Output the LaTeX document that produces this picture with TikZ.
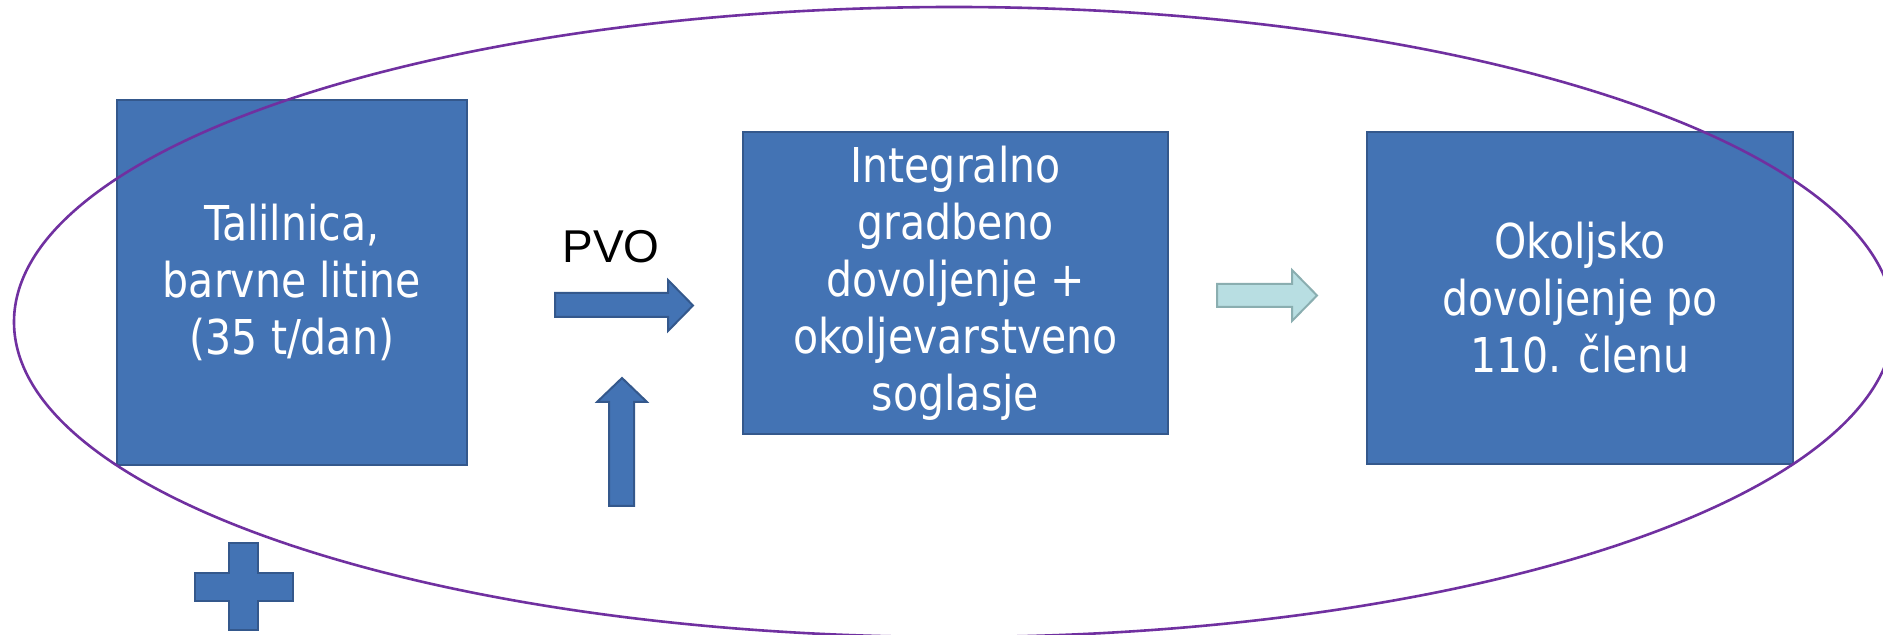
\documentclass[tikz,border=0pt]{standalone}
\usepackage{fontspec}
\newfontfamily\boxfont[FakeStretch=0.95]{DejaVu Sans Condensed}
\newfontfamily\arialfont{Liberation Sans}
\definecolor{boxblue}{RGB}{67,115,180}
\definecolor{boxline}{RGB}{52,88,140}
\definecolor{lighttealfill}{RGB}{184,222,226}
\definecolor{lighttealline}{RGB}{138,174,176}
\definecolor{ovalpurple}{RGB}{112,48,160}
\begin{document}
\begin{tikzpicture}[x=0.5pt,y=-0.5pt,
  bluebox/.style={draw=boxline, line width=1pt, fill=boxblue, text=white,
    inner sep=0pt, align=center, font=\boxfont\fontsize{24}{28.5}\selectfont},
  blockshape/.style={draw=boxline, line width=1pt, fill=boxblue, line join=miter},
  lightshape/.style={draw=lighttealline, line width=1pt, fill=lighttealfill, line join=miter}]
\useasboundingbox (0,0) rectangle (1883,635);
\fill[white] (0,0) rectangle (1883,635);
% boxes
\node[bluebox, minimum width=175pt, minimum height=182.5pt] (talilnica) at (292,282.5)
  {Talilnica,\\barvne litine\\(35 t/dan)};
\node[bluebox, minimum width=212.5pt, minimum height=151pt] (integralno) at (955.5,283)
  {Integralno\\gradbeno\\dovoljenje +\\okoljevarstveno\\soglasje};
\node[bluebox, minimum width=213pt, minimum height=166pt] (okoljsko) at (1580,298)
  {Okoljsko\\dovoljenje po\\110. členu};
% PVO label
\node[font=\arialfont\fontsize{23}{28}\selectfont, inner sep=0pt, anchor=base] (pvo) at (611,263) {PVO};
% right block arrow
\draw[blockshape] (555,293) -- (668,293) -- (668,280) -- (693,305.5) -- (668,331) -- (668,317) -- (555,317) -- cycle;
% up block arrow
\draw[blockshape] (609,506) -- (609,402) -- (597,402) -- (622,378) -- (647,402) -- (634,402) -- (634,506) -- cycle;
% light arrow
\draw[lightshape] (1217,284) -- (1292,284) -- (1292,270) -- (1317,295.5) -- (1292,321) -- (1292,307) -- (1217,307) -- cycle;
% plus sign
\draw[blockshape] (229,543) -- (258,543) -- (258,573) -- (293,573) -- (293,601) -- (258,601) -- (258,630) -- (229,630) -- (229,601) -- (195,601) -- (195,573) -- (229,573) -- cycle;
% oval
\begin{scope}
\clip (0,0) rectangle (1883,635);
\draw[ovalpurple, line width=1.3pt] (954,322) ellipse [x radius=940, y radius=315];
\end{scope}
\end{tikzpicture}
\end{document}
